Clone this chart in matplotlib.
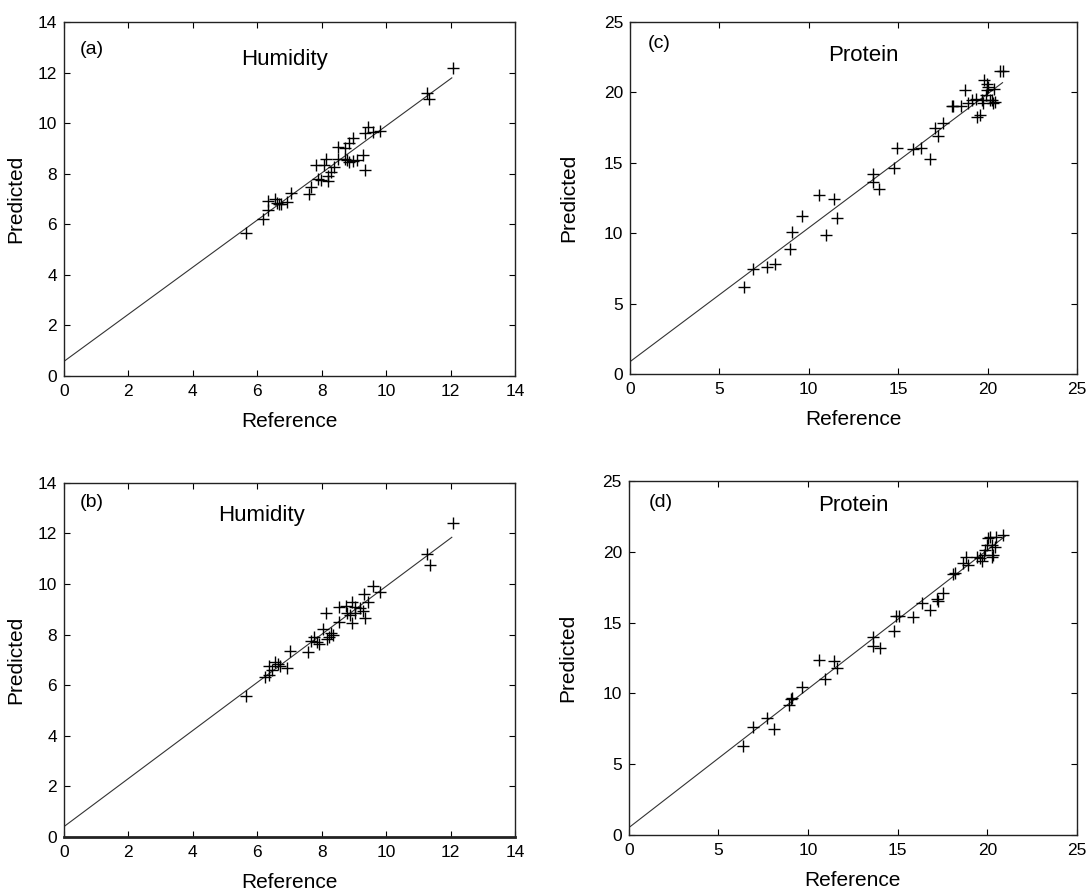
import numpy as np
import matplotlib
matplotlib.use('Agg')
import matplotlib.pyplot as plt

plt.rcParams['font.family'] = ['Liberation Sans', 'DejaVu Sans']

# (a) Humidity
hum_a_ref = [12.07, 11.26, 11.34, 5.65, 6.19, 6.34, 6.34, 6.55, 6.60, 6.73, 6.91,
             7.04, 7.60, 7.66, 7.82, 7.90, 7.97, 8.07, 8.13, 8.21, 8.21, 8.28,
             8.38, 8.52, 8.52, 8.72, 8.86, 8.96, 8.72, 8.86, 9.09, 9.27, 9.34,
             9.34, 9.45, 9.58, 9.81, 8.96, 8.80, 6.66]
hum_a_pred = [12.20, 11.21, 10.96, 5.64, 6.19, 6.56, 6.92, 6.99, 6.83, 6.80, 6.89,
              7.22, 7.20, 7.46, 8.34, 7.78, 7.75, 8.34, 8.57, 7.91, 7.71, 8.08,
              8.28, 8.57, 9.07, 9.00, 9.20, 9.40, 8.57, 8.47, 8.54, 8.74, 8.15,
              9.60, 9.86, 9.64, 9.70, 8.49, 8.54, 6.82]
hum_a_fit_x = [0, 12.04]
hum_a_fit_y = [0.58, 11.79]

# (b) Humidity
hum_b_ref = [12.07, 11.26, 11.35, 5.65, 6.24, 6.35, 6.35, 6.45, 6.55, 6.63, 6.71,
             6.92, 7.02, 7.59, 7.66, 7.76, 7.87, 7.93, 8.05, 8.13, 8.16, 8.24,
             8.28, 8.36, 8.55, 8.55, 8.76, 8.80, 8.88, 8.93, 8.93, 9.04, 9.04,
             9.19, 9.28, 9.32, 9.35, 9.45, 9.59, 9.81]
hum_b_pred = [12.42, 11.17, 10.74, 5.59, 6.34, 6.40, 6.76, 6.60, 6.93, 6.84, 6.76,
              6.69, 7.36, 7.33, 7.76, 7.89, 7.72, 7.63, 8.21, 8.84, 7.81, 7.92,
              8.08, 7.98, 8.51, 9.10, 9.14, 8.87, 8.77, 9.28, 8.45, 9.10, 8.87,
              9.04, 8.95, 9.59, 8.64, 9.28, 9.93, 9.70]
hum_b_fit_x = [0, 12.04]
hum_b_fit_y = [0.41, 11.85]

# (c) Protein
pro_c_ref = [6.38, 6.90, 7.64, 8.11, 8.95, 9.04, 9.64, 10.59, 10.96, 11.43, 11.56,
             13.61, 13.61, 13.95, 14.77, 14.91, 15.85, 16.26, 16.78, 17.06, 17.24,
             17.49, 17.99, 18.08, 18.49, 18.74, 18.92, 19.11, 19.35, 19.43, 19.57,
             19.67, 19.72, 19.80, 19.95, 19.95, 20.04, 20.13, 20.23, 20.28, 20.36,
             20.42, 20.69, 20.88, 19.91]
pro_c_pred = [6.20, 7.43, 7.62, 7.79, 8.85, 10.06, 11.25, 12.71, 9.87, 12.41, 11.10,
              14.18, 13.66, 13.12, 14.61, 16.07, 15.98, 16.07, 15.25, 17.50, 16.90,
              17.80, 19.03, 19.03, 19.03, 20.17, 19.27, 19.46, 19.51, 18.28, 18.39,
              19.46, 19.22, 20.88, 20.57, 20.17, 20.36, 19.46, 19.46, 19.22, 20.22,
              19.34, 21.52, 21.52, 19.82]
pro_c_fit_x = [0, 20.84]
pro_c_fit_y = [0.87, 20.69]

# (d) Protein
pro_d_ref = [6.38, 6.90, 7.68, 8.09, 8.93, 9.04, 9.11, 9.64, 10.62, 10.97, 11.46,
             11.59, 13.63, 13.63, 14.01, 14.81, 14.90, 15.09, 15.87, 16.33, 16.83,
             17.17, 17.26, 17.54, 18.10, 18.19, 18.62, 18.81, 18.94, 19.40, 19.59,
             19.68, 19.81, 19.87, 19.96, 20.05, 20.24, 20.29, 20.33, 20.42, 20.48,
             20.15, 20.89]
pro_d_pred = [6.29, 7.65, 8.29, 7.49, 9.18, 9.58, 9.70, 10.48, 12.36, 11.02, 12.29,
              11.77, 14.01, 13.35, 13.18, 14.41, 15.47, 15.47, 15.37, 16.36, 15.89,
              16.67, 16.55, 17.07, 18.41, 18.48, 19.19, 19.61, 19.07, 19.66, 19.54,
              19.37, 19.77, 20.13, 20.48, 20.95, 19.66, 20.48, 19.77, 20.36, 21.07,
              21.07, 21.19]
pro_d_fit_x = [0, 21.0]
pro_d_fit_y = [0.52, 21.1]

panels = [
    # rect, ref, pred, fit_x, fit_y, lim, ticks, letter, letter_pos, title, title_pos, ylabelpad
    ([0.0588, 0.5775, 0.4145, 0.3978], hum_a_ref, hum_a_pred, hum_a_fit_x, hum_a_fit_y,
     14, np.arange(0, 15, 2), '(a)', (0.062, 0.921), 'Humidity', (0.488, 0.895), 9),
    ([0.0588, 0.0596, 0.4145, 0.3978], hum_b_ref, hum_b_pred, hum_b_fit_x, hum_b_fit_y,
     14, np.arange(0, 15, 2), '(b)', (0.062, 0.946), 'Humidity', (0.437, 0.907), 9),
    ([0.5790, 0.5798, 0.4108, 0.3955], pro_c_ref, pro_c_pred, pro_c_fit_x, pro_c_fit_y,
     25, np.arange(0, 26, 5), '(c)', (0.065, 0.940), 'Protein', (0.523, 0.906), 18),
    ([0.5780, 0.0618, 0.4118, 0.3978], pro_d_ref, pro_d_pred, pro_d_fit_x, pro_d_fit_y,
     25, np.arange(0, 26, 5), '(d)', (0.071, 0.938), 'Protein', (0.502, 0.932), 18),
]

fig = plt.figure(figsize=(10.88, 8.90), dpi=100)

for rect, ref, pred, fx, fy, lim, ticks, letter, lpos, title, tpos, ypad in panels:
    ax = fig.add_axes(rect)
    ax.plot(fx, fy, color='#333333', lw=0.8)
    ax.plot(ref, pred, '+', color='black', markersize=9, markeredgewidth=1.0)
    ax.set_xlim(0, lim)
    ax.set_ylim(0, lim)
    ax.set_xticks(ticks)
    ax.set_yticks(ticks)
    ax.tick_params(direction='in', top=True, right=True, length=4, width=0.8,
                   labelsize=12.5)
    ax.tick_params(axis='x', pad=6)
    ax.tick_params(axis='y', pad=5)
    for s in ax.spines.values():
        s.set_linewidth(1.0)
        s.set_color('#222222')
    ax.set_xlabel('Reference', fontsize=15, labelpad=9)
    ax.set_ylabel('Predicted', fontsize=15, labelpad=ypad)
    ax.text(lpos[0], lpos[1], letter, transform=ax.transAxes, fontsize=14,
            ha='center', va='center')
    ax.text(tpos[0], tpos[1], title, transform=ax.transAxes, fontsize=16,
            ha='center', va='center')

fig.axes[1].spines['bottom'].set_linewidth(2.0)

fig.savefig('out.png', dpi=100)
